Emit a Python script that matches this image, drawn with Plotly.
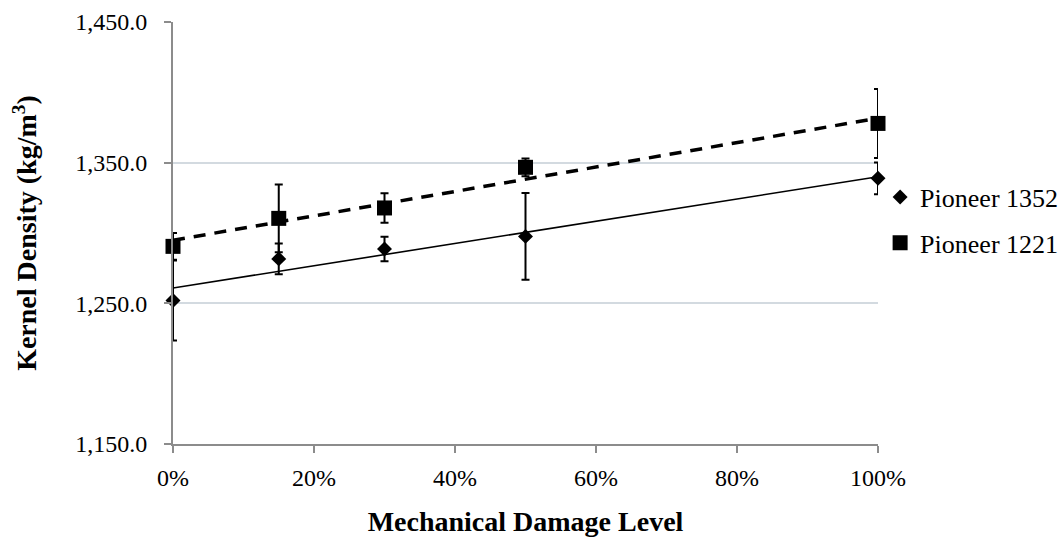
import numpy as np
import plotly.graph_objects as go

# Mechanical damage levels (%)
damage_levels = [0, 15, 30, 50, 100]

# Kernel density means and error-bar half-widths (kg/m^3)
p1352_density = [1252.0, 1281.6, 1288.7, 1297.6, 1338.9]
p1352_err = [28.5, 10.9, 8.7, 30.8, 11.3]

p1221_density = [1290.5, 1310.4, 1317.8, 1346.7, 1377.9]
p1221_err = [9.5, 24.0, 10.5, 6.3, 24.5]

x_ticks = [0, 20, 40, 60, 80, 100]
x_tick_labels = ["0%", "20%", "40%", "60%", "80%", "100%"]
y_ticks = [1150, 1250, 1350, 1450]

FONT = "Liberation Serif, Times New Roman, serif"
AXIS_GREY = "#8C8C8C"
GRID = "#D3DAE0"


def linear_trend(x, y):
    slope, intercept = np.polyfit(x, y, 1)
    xs = np.array([min(x), max(x)], dtype=float)
    return xs, slope * xs + intercept


fig = go.Figure()

# Linear trendlines
tx, ty = linear_trend(damage_levels, p1352_density)
fig.add_trace(go.Scatter(x=tx, y=ty, mode="lines", showlegend=False,
                         line=dict(color="black", width=1.6), hoverinfo="skip",
                         cliponaxis=False))
tx, ty = linear_trend(damage_levels, p1221_density)
fig.add_trace(go.Scatter(x=tx, y=ty, mode="lines", showlegend=False,
                         line=dict(color="black", width=3.5, dash="12px,9px"),
                         hoverinfo="skip", cliponaxis=False))

# Measured series with error bars
fig.add_trace(go.Scatter(
    x=damage_levels, y=p1352_density, mode="markers", name="Pioneer 1352",
    legendgroup="a", cliponaxis=False,
    marker=dict(symbol="diamond", size=11.5, color="black"),
    error_y=dict(type="data", array=p1352_err, color="black", thickness=2, width=4),
))
fig.add_trace(go.Scatter(
    x=damage_levels, y=p1221_density, mode="markers", name="Pioneer 1221",
    legendgroup="b", cliponaxis=False,
    marker=dict(symbol="square", size=15, color="black"),
    error_y=dict(type="data", array=p1221_err, color="black", thickness=2, width=4),
))

fig.update_layout(
    width=1062, height=539,
    margin=dict(l=173, r=184, t=22, b=95, autoexpand=False),
    paper_bgcolor="white", plot_bgcolor="white",
    font=dict(family=FONT, color="black", size=24),
    legend=dict(
        x=1.003, xanchor="left", y=0.641, yanchor="top",
        font=dict(family=FONT, size=26, color="black"),
        tracegroupgap=9, bgcolor="rgba(0,0,0,0)",
    ),
    xaxis=dict(
        range=[0, 100], tickvals=x_ticks, ticktext=x_tick_labels,
        showgrid=False, zeroline=False, automargin=False,
        showline=True, linecolor=AXIS_GREY, linewidth=2,
        ticks="outside", ticklen=7, tickwidth=1.5, tickcolor=AXIS_GREY,
        ticklabelstandoff=4,
        tickfont=dict(family=FONT, size=24, color="black"),
        title=dict(text="<b>Mechanical Damage Level</b>", standoff=22,
                   font=dict(family=FONT, size=28, color="black")),
    ),
    yaxis=dict(
        range=[1150, 1450], tickvals=y_ticks, tickformat=",.1f",
        showgrid=True, gridcolor=GRID, gridwidth=1.5, zeroline=False,
        automargin=False,
        showline=True, linecolor=AXIS_GREY, linewidth=2,
        ticks="outside", ticklen=7, tickwidth=1.5, tickcolor=AXIS_GREY,
        ticklabelstandoff=12,
        tickfont=dict(family=FONT, size=24, color="black"),
        title=dict(text="<b>Kernel Density (kg/m<sup>3</sup>)</b>", standoff=30,
                   font=dict(family=FONT, size=28, color="black")),
    ),
)

fig.write_html("out.html")
